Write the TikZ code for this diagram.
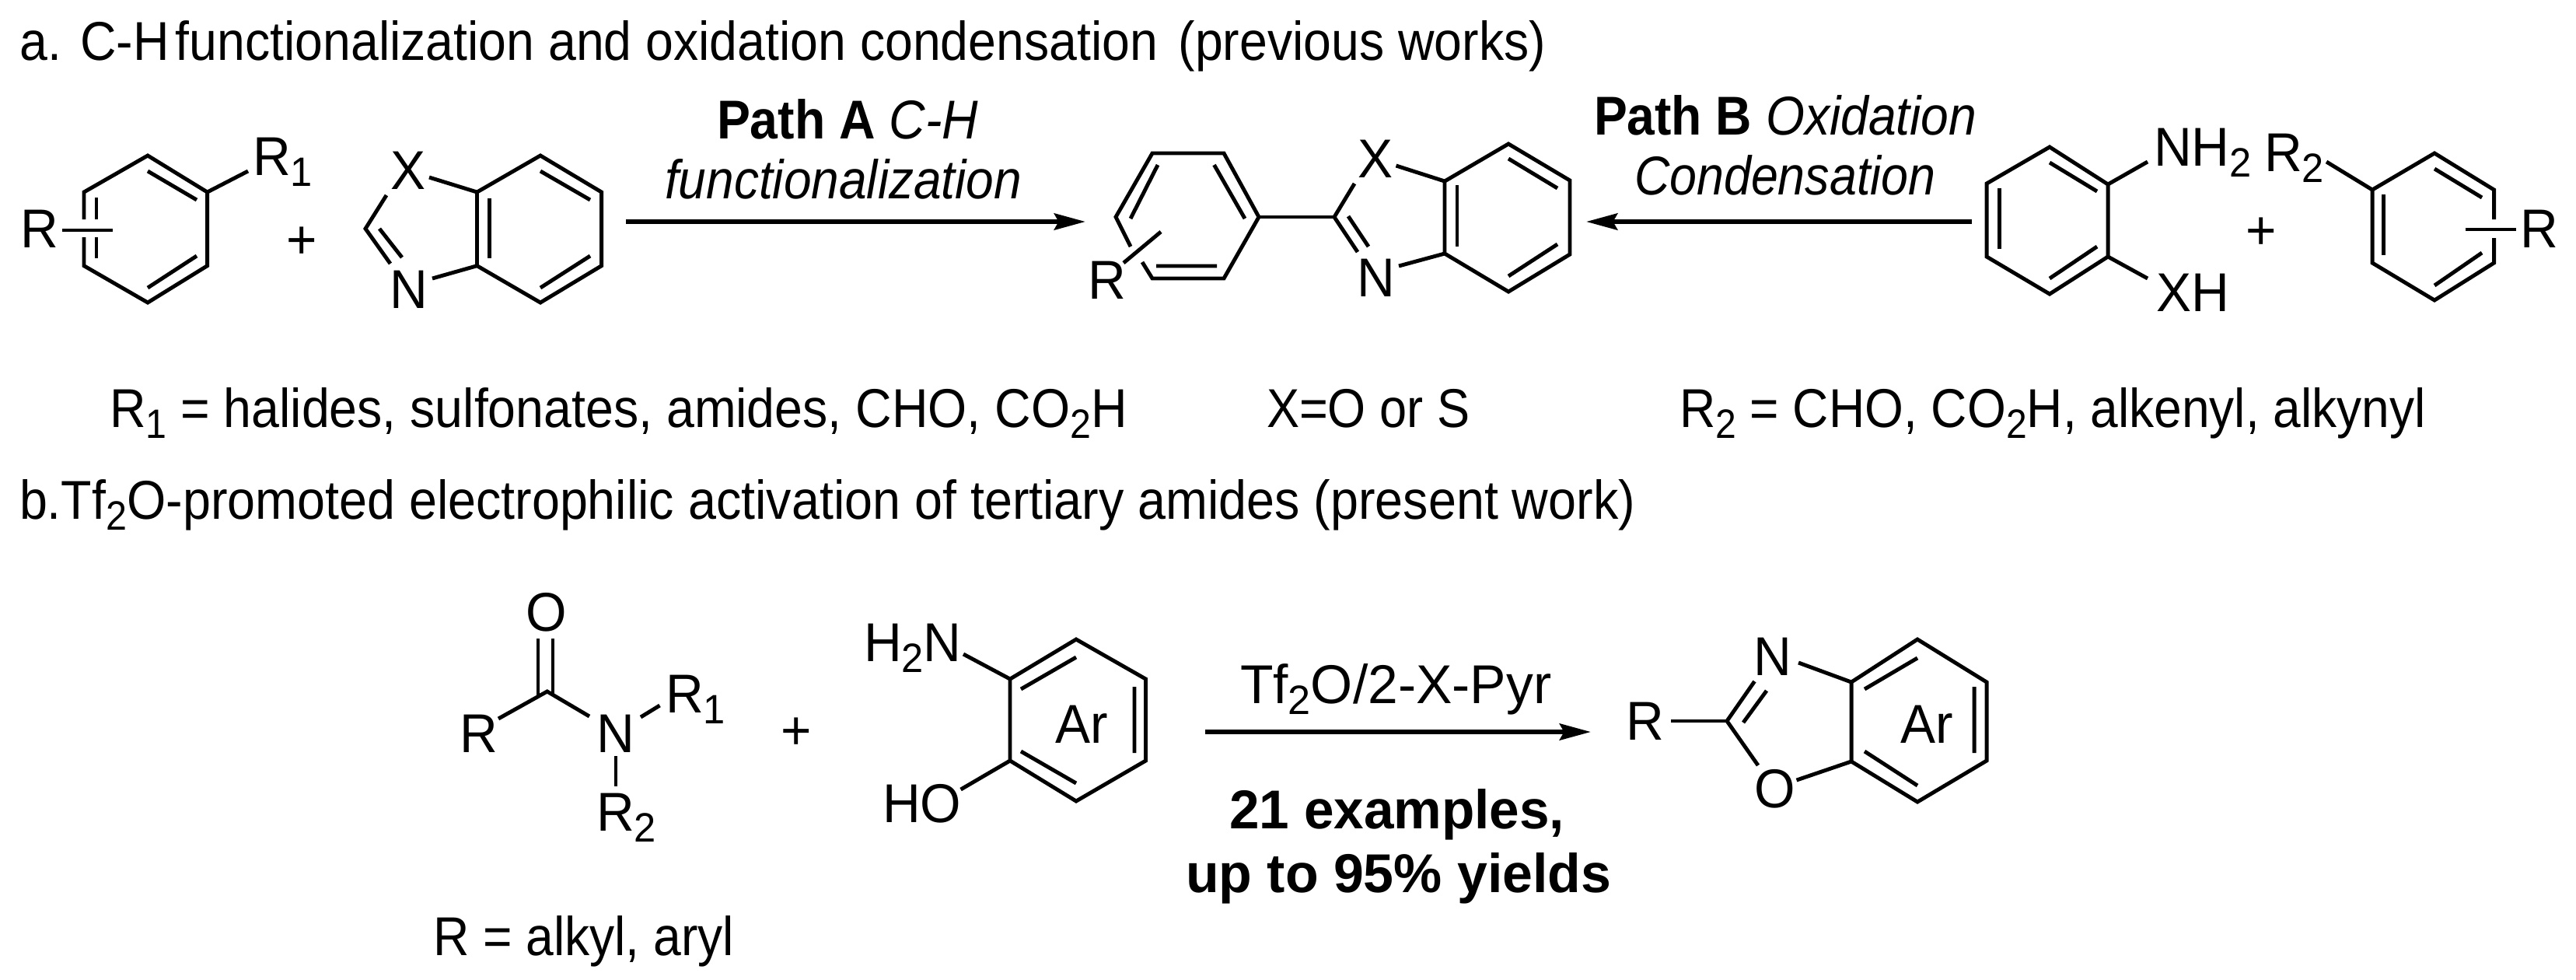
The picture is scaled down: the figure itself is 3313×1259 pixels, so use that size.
\documentclass[tikz,border=0pt]{standalone}
\usepackage{fontspec}
\usepackage{graphicx}
\setmainfont{Liberation Sans}[FakeStretch=0.96]
\usetikzlibrary{arrows.meta}
\newcommand\fitw[2]{\pgfmathsetlengthmacro\fitwid{#1*0.284528}\setbox0=\hbox{#2}\pgfmathsetmacro\fitr{\fitwid/\the\wd0}\scalebox{\fitr}[1]{#2}}
\newcommand\lsub[1]{\raisebox{-4pt}{\fontsize{15}{16}\selectfont #1}}
\tikzset{
  bond/.style={line width=1.4pt,line join=miter,miter limit=10},
  lab/.style={anchor=base west,inner sep=0pt,outer sep=0pt,font=\fontsize{20}{22}\selectfont},
  plus/.style={anchor=base,inner sep=0pt,outer sep=0pt,font=\fontsize{20}{22}\selectfont},
  rxn/.style={line width=1.71pt,-{Stealth[length=11.4pt,width=6pt,inset=1.6pt]}}
}
\begin{document}
\begin{tikzpicture}[x=0.01cm,y=-0.01cm]
\useasboundingbox (0,0) rectangle (3313,1259);
% text lines
\node[lab] (ta) at (26,77) {\fitw{1961}{a. C-H\hspace{.12em}functionalization and oxidation condensation\hspace{.4em}(previous works)}};
\node[lab] (pa) at (922,178) {\fitw{336}{\textbf{Path A} \textit{C-H}}};
\node[lab] (pa2) at (855,255) {\fitw{459}{\textit{functionalization}}};
\node[lab] (pb) at (2050,173) {\fitw{492}{\textbf{Path B} \textit{Oxidation}}};
\node[lab] (pb2) at (2102,250) {\fitw{387}{\textit{Condensation}}};
\node[lab] (d1) at (141,549) {\fitw{1308}{R\lsub{1} = halides, sulfonates, amides, CHO, CO\lsub{2}H}};
\node[lab] (d2) at (1629,549) {\fitw{261}{X=O or S}};
\node[lab] (d3) at (2160,549) {\fitw{959}{R\lsub{2} = CHO, CO\lsub{2}H, alkenyl, alkynyl}};
\node[lab] (tb) at (25,667) {\fitw{2077}{b.Tf\lsub{2}O-promoted electrophilic activation of tertiary amides (present work)}};
\node[lab] (d4) at (557,1228) {\fitw{387}{R = alkyl, aryl}};
\node[lab] (tf) at (1595,904) {\fitw{400}{Tf\lsub{2}O/2-X-Pyr}};
\node[lab] (ex) at (1581,1065) {\fitw{431}{\textbf{21 examples,}}};
\node[lab] (yi) at (1525,1147) {\fitw{547}{\textbf{up to 95\% yields}}};
% arrows
\coordinate (a1s) at (805,285); \coordinate (a1e) at (1396,285);
\coordinate (a2s) at (2536,285); \coordinate (a2e) at (2040,285);
\coordinate (a3s) at (1550,941); \coordinate (a3e) at (2046,941);
\draw[rxn] (a1s) -- (a1e);
\draw[rxn] (a2s) -- (a2e);
\draw[rxn] (a3s) -- (a3e);
% plus signs
\node[plus] (p1) at (388,332) {+};
\node[plus] (p2) at (2908,320) {+};
\node[plus] (p3) at (1024,963) {+};
% ring 1
\node[lab] (r11) at (325,225) {R\lsub{1}};
\node[lab] (r1) at (27,318) {R};
\draw[bond] (108,282) -- (108,247) -- (190,200) -- (266.6,247) -- (266.6,341.7) -- (190,389) -- (108,341.7) -- (108,305);
\draw[bond] (124,254) -- (124,282) (124,305) -- (124,332);
\draw[bond] (190,220) -- (253,257) (253,329) -- (190,370);
\draw[bond] (266.6,247) -- (319,220);
\draw[bond] (80,296) -- (145,296);
% benzoxazole
\node[lab] (x1) at (502,243) {X};
\node[lab] (n1) at (501,396) {N};
\draw[bond] (497,251) -- (470,294) -- (502,339);
\draw[bond] (488,294) -- (517,331);
\draw[bond] (552,228) -- (613.5,247);
\draw[bond] (556,358) -- (613.5,341.7);
\draw[bond] (613.5,247) -- (695,200) -- (773.6,247) -- (773.6,341.7) -- (695,389) -- (613.5,341.7) -- cycle;
\draw[bond] (629.5,255) -- (629.5,332);
\draw[bond] (695,220) -- (759,257) (759,329) -- (695,370);
% central product
\node[lab] (r2) at (1399,384) {R};
\node[lab] (x2) at (1746,228) {X};
\node[lab] (n2) at (1745,381) {N};
\draw[bond] (1454,317) -- (1435,279) -- (1482,197) -- (1574,197) -- (1619,279) -- (1574,358) -- (1482,358) -- (1469,337);
\draw[bond] (1561.5,212) -- (1601,281) (1489,212) -- (1454,281) (1487,342) -- (1565,342);
\draw[bond] (1493,298) -- (1445,338);
\draw[bond] (1619,279) -- (1716,279);
\draw[bond] (1742,236) -- (1716,279) -- (1746,324);
\draw[bond] (1734,278) -- (1760,317);
\draw[bond] (1795.5,213) -- (1858,233);
\draw[bond] (1799,342) -- (1858,326);
\draw[bond] (1858,233) -- (1940,185) -- (2019,232) -- (2019,327) -- (1940,375) -- (1858,326) -- cycle;
\draw[bond] (1874,238) -- (1874,317);
\draw[bond] (1940,204) -- (2003,242) (2003,314) -- (1940,355);
% aminophenol a
\node[lab] (nh2) at (2770,213) {NH\lsub{2}};
\node[lab] (xh) at (2773,400) {XH};
\draw[bond] (2555,236) -- (2636,189) -- (2711,237) -- (2711,330) -- (2636,378) -- (2555,330) -- cycle;
\draw[bond] (2571,242) -- (2571,320);
\draw[bond] (2636,209) -- (2697,246) (2697,317) -- (2636,358);
\draw[bond] (2711,237) -- (2762,208);
\draw[bond] (2711,330) -- (2762,358);
% R2 ring
\node[lab] (r22) at (2912,220) {R\lsub{2}};
\node[lab] (r3) at (3241,318) {R};
\draw[bond] (3207.5,282) -- (3207.5,244) -- (3131,197) -- (3051,244) -- (3051,338) -- (3131,386) -- (3207.5,338) -- (3207.5,306);
\draw[bond] (3065,250) -- (3065,328);
\draw[bond] (3131,217) -- (3192,254) (3192,325) -- (3131,367);
\draw[bond] (2992,208) -- (3051,244);
\draw[bond] (3170.5,295) -- (3235.6,295);
% amide
\node[lab] (o1) at (676,811) {O};
\node[lab] (r4) at (591,967) {R};
\node[lab] (n3) at (767,967) {N};
\node[lab] (r41) at (856,916) {R\lsub{1}};
\node[lab] (r42) at (767,1068) {R\lsub{2}};
\draw[bond] (692,821) -- (692,895) (711,821) -- (711,895);
\draw[bond] (641,924) -- (703.7,889) -- (758,921);
\draw[bond] (824,922) -- (848.5,907);
\draw[bond] (792,972) -- (792,1011);
% aminophenol b
\node[lab] (h2n) at (1111,850) {H\lsub{2}N};
\node[lab] (ho) at (1135,1057) {HO};
\node[lab] (ar1) at (1357,955) {Ar};
\draw[bond] (1299,873) -- (1384,822) -- (1473.5,873) -- (1473.5,978) -- (1384,1030) -- (1299,978) -- cycle;
\draw[bond] (1313,886) -- (1384,845) (1313,966) -- (1384,1007) (1459,883) -- (1459,968);
\draw[bond] (1239,841) -- (1299,873);
\draw[bond] (1299,978) -- (1235.6,1015);
% product b
\node[lab] (r5) at (2091,951) {R};
\node[lab] (n4) at (2255,868) {N};
\node[lab] (o2) at (2256,1038) {O};
\node[lab] (ar2) at (2444,955) {Ar};
\draw[bond] (2149,927) -- (2221,927);
\draw[bond] (2256.5,876) -- (2221,927) -- (2261,984);
\draw[bond] (2272,888) -- (2242,929);
\draw[bond] (2313,852) -- (2381,877);
\draw[bond] (2310.5,1003) -- (2381,979);
\draw[bond] (2381,877) -- (2466,822) -- (2555,877) -- (2555,978) -- (2466,1031) -- (2381,979) -- cycle;
\draw[bond] (2398,886) -- (2466,846) (2398,966) -- (2466,1010) (2539,883) -- (2539,968);
\end{tikzpicture}
\end{document}
